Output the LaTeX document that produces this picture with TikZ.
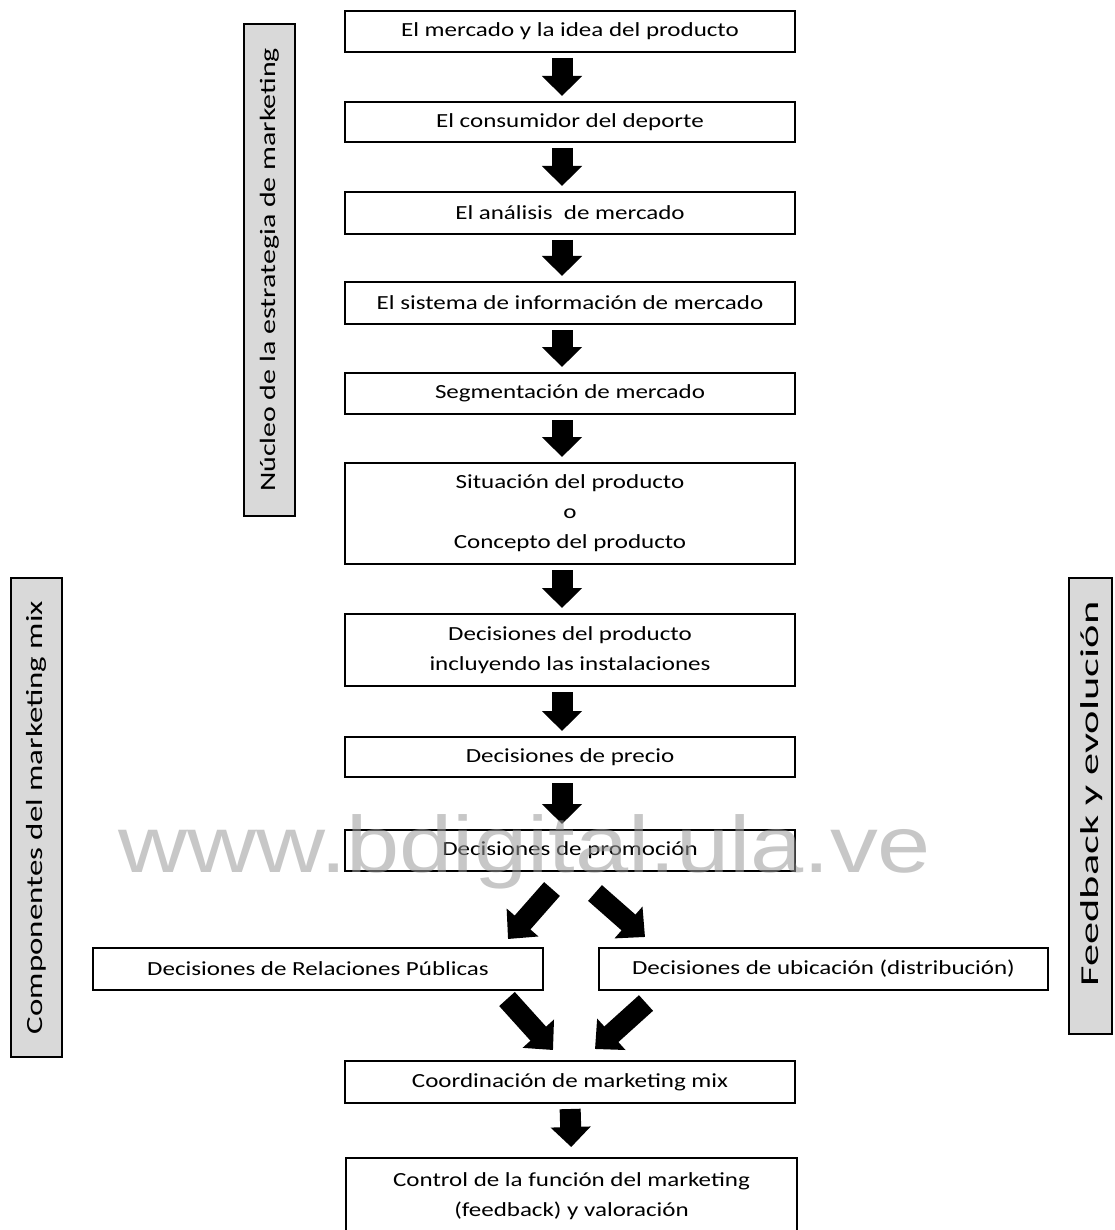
\documentclass[tikz,border=0pt]{standalone}
\usepackage{fontspec}
\setmainfont{Carlito}[FakeStretch=1.25]
\newfontfamily\sidefontA{Carlito}[FakeStretch=1.36]
\newfontfamily\sidefontB{Carlito}[FakeStretch=1.42]
\newfontfamily\sidefontC{Carlito}[FakeStretch=1.72]
\newfontfamily\wmfont{Liberation Sans}
\usetikzlibrary{arrows.meta,calc}
\definecolor{sidegray}{RGB}{217,217,217}
\definecolor{wmgray}{RGB}{154,154,154}
\begin{document}
\begin{tikzpicture}[x=1pt,y=-1pt,
  box/.style={draw, line width=2pt, minimum width=450pt, align=center,
    font=\fontsize{20}{30}\selectfont, inner sep=0pt},
  sidebox/.style={draw, line width=2pt, fill=sidegray, rotate=90, inner sep=0pt},
  barrow/.style={line width=21pt, -{Triangle[length=20pt,width=39pt]},
    shorten <=5pt, shorten >=5pt},
  darrow/.style={line width=21pt, -{Triangle[length=22pt,width=41pt]}}]
\useasboundingbox (0,0) rectangle (1114,1230);
\clip (0,0) rectangle (1114,1230);
\fill[white] (0,0) rectangle (1114,1230);

% side labels
\node[sidebox, minimum width=492pt, minimum height=51pt,
  font=\sidefontA\fontsize{22}{26}\selectfont] (nuc) at (269.5,270) {Núcleo de la estrategia de marketing};
\node[sidebox, minimum width=479pt, minimum height=51pt,
  font=\sidefontB\fontsize{23.2}{26}\selectfont] (comp) at (36.5,817.5) {Componentes del marketing mix};
\node[sidebox, minimum width=456pt, minimum height=43pt] (feed) at (1090.5,806) {};
\node[rotate=90, inner sep=0pt, font=\sidefontC\fontsize{25.8}{30}\selectfont] (feedtext) at (1092,794) {Feedback y evolución};

% main column
\node[box, minimum height=41pt] (b1) at (570,31.5) {El mercado y la idea del producto};
\node[box, minimum height=40pt] (b2) at (570,122) {El consumidor del deporte};
\node[box, minimum height=42pt] (b3) at (570,213) {El análisis~~de mercado};
\node[box, minimum height=42pt] (b4) at (570,303) {El sistema de información de mercado};
\node[box, minimum height=41pt] (b5) at (570,393.5) {Segmentación de mercado};
\node[box, minimum height=101pt] (b6) at (570,513.5) {Situación del producto\\o\\Concepto del producto};
\node[box, minimum height=72pt] (b7) at (570,650) {Decisiones del producto\\incluyendo las instalaciones};
\node[box, minimum height=40pt] (b8) at (570,757) {Decisiones de precio};
\node[box, minimum height=41pt] (b9) at (570,850.5) {Decisiones de promoción};
\node[box, minimum height=42pt] (rp) at (318,969) {Decisiones de Relaciones Públicas};
\node[box, minimum height=42pt, minimum width=449pt] (ub) at (823.5,969) {Decisiones de ubicación (distribución)};
\node[box, minimum height=42pt] (co) at (570,1082) {Coordinación de marketing mix};
\node[box, minimum height=82pt, minimum width=451pt] (ct) at (571.5,1199) {};
\node[font=\fontsize{20}{30}\selectfont, align=center, anchor=north] (cttext) at (571.5,1169) {Control de la función del marketing\\(feedback) y valoración};

% vertical arrows
\foreach \a/\b in {b1/b2,b2/b3,b3/b4,b4/b5,b5/b6,b6/b7,b7/b8,b8/b9}
  \draw[barrow] ([xshift=-8pt]\a.south) -- ([xshift=-8pt]\b.north);
\draw[barrow, shorten >=10pt] (co.south) -- (ct.north);

% diagonal arrows
\draw[darrow] ($(b9.south)+(-18,17)$) -- ($(rp.north)+(190,-8)$);
\draw[darrow] ($(b9.south)+(25,21)$) -- ($(ub.north)+(-178.5,-10)$);
\draw[darrow] ($(rp.south)+(189,8)$) -- ($(co.north)+(-17,-10)$);
\draw[darrow] ($(ub.south)+(-177.5,12)$) -- ($(co.north)+(25,-11)$);

% watermark
\node[text=wmgray, opacity=0.55, font=\wmfont\fontsize{80}{80}\selectfont,
  xscale=1.195, anchor=base west, inner sep=0pt] (wm) at (118,872) {www.bdigital.ula.ve};
\end{tikzpicture}
\end{document}
